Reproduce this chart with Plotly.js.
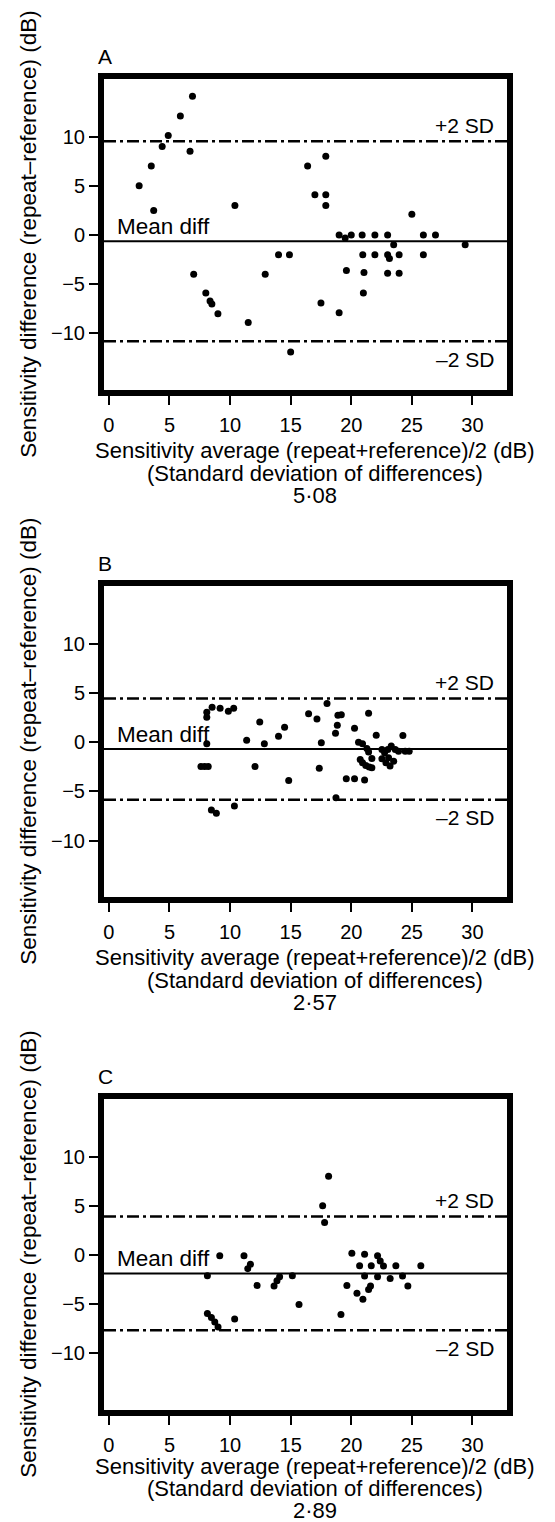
<!DOCTYPE html>
<html>
<head>
<meta charset="utf-8">
<script src="https://cdn.plot.ly/plotly-3.0.1.min.js"></script>
<style>html,body{margin:0;padding:0;background:#fff;}#chart{width:555px;height:1522px;}</style>
</head>
<body>
<div id="chart"></div>
<script>
// ---- data ----
const panelLabels = ['A', 'B', 'C'];
const sdText = ['5·08', '2·57', '2·89'];
const meanDiff = [-0.64, -0.7, -1.88];
const sdDiff = [5.08, 2.57, 2.89];

const xA = [2.5, 3.5, 3.7, 4.4, 4.9, 5.9, 6.9, 6.7, 10.4, 7.0, 8.0, 8.35, 8.5, 9.0, 11.5, 12.9, 14.0, 14.9, 15.0,
  16.4, 17.9, 17.0, 17.9, 17.9, 25.0, 19.0, 20.0, 20.9, 21.95, 23.0, 25.95, 26.95, 19.5, 23.5, 29.4,
  20.95, 21.95, 23.0, 23.95, 25.95, 23.15, 19.6, 21.05, 23.0, 23.95, 21.0, 17.5, 19.0];
const yA = [5.0, 7.0, 2.5, 9.0, 10.1, 12.1, 14.1, 8.5, 3.0, -4.0, -5.9, -6.7, -7.0, -8.0, -8.9, -4.0, -2.0, -2.0, -11.9,
  7.0, 8.0, 4.1, 4.1, 3.0, 2.1, 0, 0, 0, 0, 0, 0, 0, -0.3, -1.0, -1.0,
  -2.0, -2.0, -2.0, -2.0, -2.0, -2.4, -3.6, -3.8, -3.9, -3.9, -5.9, -6.9, -7.9];

const xB = [8.08, 8.08, 8.52, 9.18, 9.86, 10.3, 8.08, 7.6, 7.9, 8.2, 8.46, 8.87, 10.36, 11.37, 12.45, 12.83, 12.06, 14.0, 14.5, 14.84,
  16.48, 17.17, 17.53, 17.36, 18.0, 18.9, 19.18, 18.85, 18.7, 20.27, 21.43, 22.06, 24.26, 20.6, 20.93, 21.29, 21.43,
  20.74, 20.93, 21.2, 21.48, 21.7, 21.7, 22.53, 22.75, 23.02, 23.3, 23.63, 23.9, 24.45, 24.78,
  22.53, 22.86, 23.2, 23.5, 23.08, 19.59, 20.27, 21.1, 18.74];
const yB = [3.04, 2.53, 3.55, 3.45, 3.14, 3.45, -0.17, -2.47, -2.47, -2.47, -6.9, -7.23, -6.49, 0.2, 2.06, -0.17, -2.47, 0.61, 1.52, -3.89,
  2.9, 2.36, -0.07, -2.64, 3.92, 2.74, 2.8, 1.72, 0.91, 1.42, 2.94, 0.71, 0.68, 0, -0.17, -0.64, -1.01,
  -1.76, -2.1, -2.36, -2.53, -2.6, -1.66, -0.74, -1.08, -0.74, -0.4, -0.74, -0.91, -0.91, -0.91,
  -1.69, -2.1, -2.43, -1.93, -1.59, -3.72, -3.72, -3.85, -5.64];

const xC = [9.15, 11.15, 11.68, 11.46, 8.13, 12.23, 13.63, 13.87, 14.09, 15.14, 15.69, 8.13, 8.46, 8.74, 9.01, 10.38,
  18.13, 17.64, 17.8, 20.05, 21.1, 22.17, 22.39, 22.66, 20.69, 21.65, 23.68, 25.74, 21.1, 22.17, 23.21, 24.23, 24.67,
  19.64, 20.47, 20.96, 21.43, 21.59, 19.15];
const yC = [-0.07, -0.07, -0.95, -1.39, -2.1, -3.1, -3.16, -2.62, -2.2, -2.1, -5.03, -5.95, -6.36, -6.8, -7.31, -6.5,
  7.99, 5.0, 3.3, 0.17, 0.07, -0.07, -0.61, -1.12, -1.09, -1.09, -1.09, -1.09, -2.14, -2.2, -2.38, -2.14, -3.16,
  -3.1, -3.9, -4.49, -3.5, -3.16, -6.05];

const xTickVals = [0, 5, 10, 15, 20, 25, 30];
const yTickVals = [-10, -5, 0, 5, 10];
const xTitle = 'Sensitivity average (repeat+reference)/2 (dB)';
const xSubTitle = '(Standard deviation of differences)';
const yTitle = 'Sensitivity difference (repeat–reference) (dB)';

// ---- layout ----
const H = 1522;
const panelsPx = [[78.5, 389.5], [585.7, 896.7], [1098.5, 1409.5]]; // top, bottom (px)
const titleOffsets = [[61, 84, 106], [61, 84, 106], [57, 79, 100.5]];
const FONT = 'Liberation Sans, Arial, Helvetica, sans-serif';
const xs = [xA, xB, xC], ys = [yA, yB, yC];

const data = [];
const layout = {
  width: 555, height: H,
  margin: {l: 104, r: 47.5, t: 0, b: 0},
  paper_bgcolor: '#ffffff', plot_bgcolor: '#ffffff',
  showlegend: false,
  font: {family: FONT, color: '#000', size: 20},
  shapes: [], annotations: []
};

for (let i = 0; i < 3; i++) {
  const sfx = i === 0 ? '' : String(i + 1);
  const xa = 'x' + sfx, ya = 'y' + sfx;
  const dom = [1 - panelsPx[i][1] / H, 1 - panelsPx[i][0] / H];
  data.push({
    type: 'scatter', mode: 'markers', x: xs[i], y: ys[i], xaxis: xa, yaxis: ya,
    marker: {color: '#000', size: 7}, hoverinfo: 'skip'
  });
  const common = {
    showline: true, linewidth: 6, linecolor: '#000', mirror: true,
    ticks: 'outside', ticklen: 9, tickwidth: 2, tickcolor: '#000',
    showgrid: false, zeroline: false, tickfont: {size: 20, family: FONT, color: '#000'}
  };
  layout['xaxis' + sfx] = Object.assign({}, common, {
    anchor: ya, domain: [0, 1], range: [-0.4, 32.85], ticklabelstandoff: 3,
    tickmode: 'array', tickvals: xTickVals, ticktext: xTickVals.map(String)
  });
  layout['yaxis' + sfx] = Object.assign({}, common, {
    anchor: xa, domain: dom, range: [-15.7, 15.9],
    tickmode: 'array', tickvals: yTickVals,
    title: {text: yTitle, font: {size: 22.5, family: FONT, color: '#000'}, standoff: 10}
  });
  const m = meanDiff[i], up = m + 2 * sdDiff[i], lo = m - 2 * sdDiff[i];
  layout.shapes.push(
    {type: 'line', xref: xa + ' domain', yref: ya, x0: 0, x1: 1, y0: m, y1: m, line: {color: '#000', width: 2}},
    {type: 'line', xref: xa + ' domain', yref: ya, x0: 0, x1: 1, y0: up, y1: up, line: {color: '#000', width: 2.5, dash: '12px,4px,3px,4px'}},
    {type: 'line', xref: xa + ' domain', yref: ya, x0: 0, x1: 1, y0: lo, y1: lo, line: {color: '#000', width: 2.5, dash: '12px,4px,3px,4px'}}
  );
  const af = {size: 21, family: FONT, color: '#000'};
  const tf = {size: 22, family: FONT, color: '#000'};
  const titleLines = [xTitle, xSubTitle, sdText[i]];
  titleLines.forEach((t, k) => {
    layout.annotations.push({xref: xa + ' domain', yref: ya + ' domain', x: 0.523, y: 0, yshift: -titleOffsets[i][k],
      xanchor: 'center', yanchor: 'middle', text: t, showarrow: false, font: tf, borderpad: 0});
  });
  layout.annotations.push(
    {xref: xa + ' domain', yref: ya, x: 0.027, y: m, yshift: 15, xanchor: 'left', yanchor: 'middle', text: 'Mean diff', showarrow: false, font: {size: 22.5, family: FONT, color: '#000'}},
    {xref: xa + ' domain', yref: ya, x: 0.9715, y: up, yshift: 16, xanchor: 'right', yanchor: 'middle', text: '+2 SD', showarrow: false, font: af},
    {xref: xa + ' domain', yref: ya, x: 0.9715, y: lo, yshift: -18, xanchor: 'right', yanchor: 'middle', text: '–2 SD', showarrow: false, font: af},
    {xref: xa + ' domain', yref: ya + ' domain', x: -0.02, y: 1, yshift: 22, xanchor: 'left', yanchor: 'middle', text: panelLabels[i], showarrow: false, font: af}
  );
}

Plotly.newPlot('chart', data, layout, {staticPlot: true, displayModeBar: false});
</script>
</body>
</html>
